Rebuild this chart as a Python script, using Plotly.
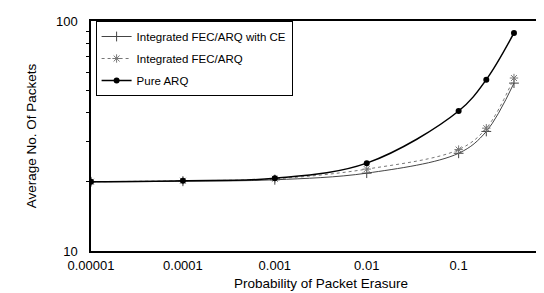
import plotly.graph_objects as go

x_vals = [0.00001, 0.0001, 0.001, 0.01, 0.1, 0.2, 0.4]
fec_ce = [20.0, 20.1, 20.4, 21.8, 26.6, 33.1, 53.7]
fec = [20.0, 20.2, 20.6, 22.7, 27.6, 34.2, 56.5]
pure_arq = [20.0, 20.2, 20.7, 24.1, 40.6, 55.6, 88.7]

x_tickvals = [0.00001, 0.0001, 0.001, 0.01, 0.1, 1]
x_ticktext = ["0.00001", "0.0001", "0.001", "0.01", "0.1", "1"]
y_tickvals = [10, 100]
y_ticktext = ["10", "100"]
y_minor = [20, 30, 40, 50, 60, 70, 80, 90]

FONT = "Liberation Sans, Arial, sans-serif"

fig = go.Figure()
fig.add_trace(go.Scatter(
    x=x_vals, y=fec_ce, name="Integrated FEC/ARQ with CE", legendgroup="a",
    mode="lines+markers", line=dict(color="#444444", width=1, shape="spline"),
    marker=dict(symbol="cross-thin", size=7, line=dict(color="#444444", width=1))))
fig.add_trace(go.Scatter(
    x=x_vals, y=fec, name="Integrated FEC/ARQ", legendgroup="b",
    mode="lines+markers", line=dict(color="#777777", width=1, dash="dot", shape="spline"),
    marker=dict(symbol="asterisk-open", size=7, line=dict(color="#777777", width=1))))
fig.add_trace(go.Scatter(
    x=x_vals, y=pure_arq, name="Pure ARQ", legendgroup="c",
    mode="lines+markers", line=dict(color="black", width=1.5, shape="spline"),
    marker=dict(symbol="circle", size=6, color="black")))

fig.update_layout(
    width=544, height=293,
    margin=dict(l=83, r=1, t=13, b=50),
    paper_bgcolor="white", plot_bgcolor="white",
    font=dict(family=FONT, size=13, color="black"),
    showlegend=True,
    legend=dict(x=0.01, y=1.0, xanchor="left", yanchor="top",
                bgcolor="white", bordercolor="black", borderwidth=1,
                font=dict(family=FONT, size=11.5, color="black"),
                tracegroupgap=3, itemwidth=30),
    xaxis=dict(type="log", range=[-5, 0.005], tickvals=x_tickvals, ticktext=x_ticktext,
               showline=True, linecolor="black", linewidth=1.5, mirror=True,
               showgrid=False, zeroline=False, ticks="", ticklabelstandoff=2,
               title=dict(text="Probability of Packet Erasure", standoff=6,
                          font=dict(family=FONT, size=13.5))),
    yaxis=dict(type="log", range=[1, 2], tickvals=y_tickvals, ticktext=y_ticktext,
               showline=True, linecolor="black", linewidth=1.5,
               showgrid=False, zeroline=False, ticks="", ticklabelstandoff=9,
               minor=dict(tickvals=y_minor, ticks="outside", ticklen=3, tickcolor="black"),
               title=dict(text="Average No. Of Packets", standoff=16,
                          font=dict(family=FONT, size=13.5))),
    shapes=[dict(type="line", xref="paper", yref="paper", x0=1, x1=1, y0=0, y1=1,
                 line=dict(color="#aaaaaa", width=1, dash="dot"))],
)

fig.write_html("out.html")
